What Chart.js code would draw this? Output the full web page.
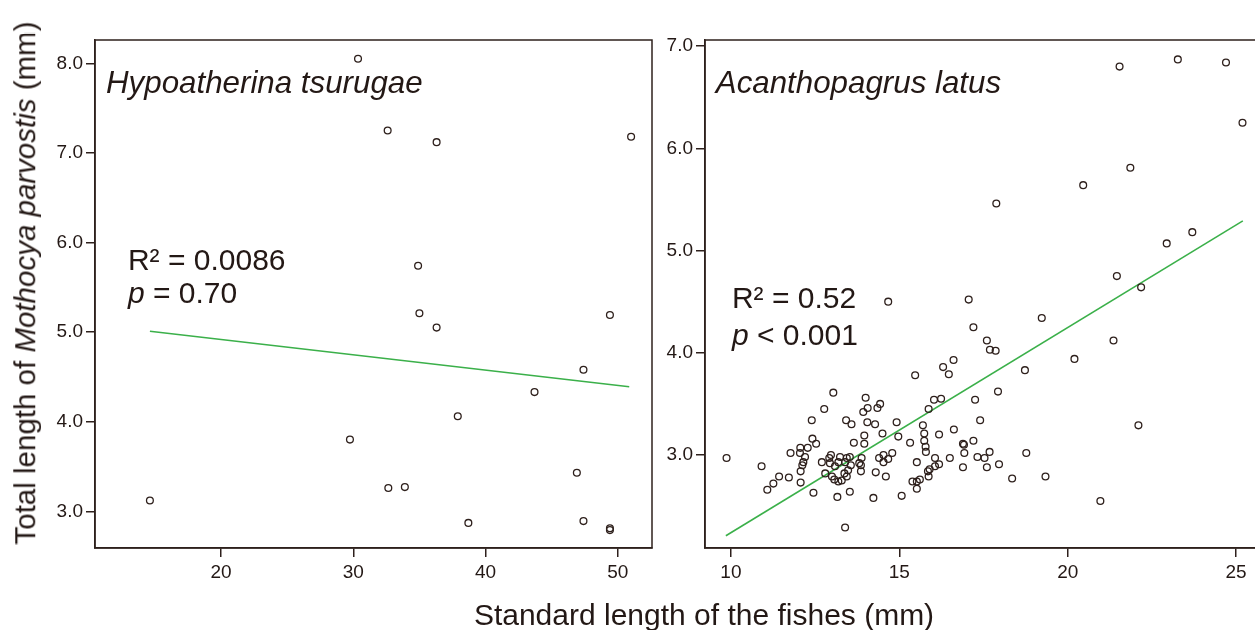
<!DOCTYPE html>
<html>
<head>
<meta charset="utf-8">
<script src="https://cdn.jsdelivr.net/npm/chart.js@4.4.0/dist/chart.umd.min.js"></script>
<style>
  html, body { margin: 0; padding: 0; background: #fff; width: 1255px; height: 630px; overflow: hidden; }
  body { position: relative; font-family: "Liberation Sans", Arial, sans-serif; color: #231815; }
  canvas { position: absolute; top: 0; }
  #leftChart { left: 0; }
  #rightChart { left: 655px; }
  .ytitle { position: absolute; left: 25px; top: 283px; transform: translate(-50%, -50%) rotate(-90deg);
            white-space: nowrap; font-size: 29.5px; line-height: 1; }
  .xtitle { position: absolute; left: 704px; top: 600px; transform: translateX(-50%);
            white-space: nowrap; font-size: 30px; line-height: 1; }
</style>
</head>
<body>
<canvas id="leftChart" width="655" height="630"></canvas>
<canvas id="rightChart" width="605" height="630"></canvas>
<div class="ytitle">Total length of <i>Mothocya parvostis</i> (mm)</div>
<div class="xtitle">Standard length of the fishes (mm)</div>
<script>
// Hypoatherina tsurugae: standard length (mm) vs parasite total length (mm)
const leftSL = [14.63, 29.75, 30.36, 32.6, 36.3, 51.0, 34.9, 35.0, 36.3, 49.4,
                47.4, 43.7, 37.9, 32.65, 33.9, 46.9, 38.7, 47.4, 49.4, 49.4];
const leftTL = [3.12, 3.80, 8.05, 7.25, 7.12, 7.18, 5.74, 5.21, 5.05, 5.19,
                4.58, 4.33, 4.06, 3.26, 3.27, 3.43, 2.87, 2.89, 2.81, 2.79];
const leftFitSL = [14.63, 50.86];
const leftFitTL = [5.01, 4.39];

// Acanthopagrus latus
const rightSL = [9.87, 10.91, 11.08, 11.26, 11.43, 11.72, 11.77, 12.06, 12.05, 12.28,
  12.40, 12.42, 12.53, 12.20, 12.15, 12.12, 12.07, 12.07, 12.45, 12.70,
  12.80, 12.77, 13.04, 13.42, 13.58, 13.65, 13.96, 13.96, 14.00, 14.06,
  13.93, 14.35, 14.43, 14.05, 14.28, 14.92, 14.50, 14.97, 15.32, 15.52,
  15.39, 15.52, 15.52, 15.07, 14.23, 13.53, 13.16, 13.39, 14.60, 14.30,
  14.40, 14.53, 14.53, 14.67, 14.79, 13.88, 13.86, 13.81, 13.86, 13.53,
  13.44, 13.39, 13.56, 13.48, 13.37, 13.24, 13.19, 13.09, 12.97, 12.92,
  12.94, 13.00, 13.07, 13.19, 13.29, 13.44, 15.47, 14.67, 15.70, 15.74,
  15.74, 15.78, 15.79, 16.18, 15.87, 16.03, 16.24, 16.30, 16.47, 16.61,
  16.62, 16.89, 16.92, 17.20, 16.93, 17.68, 17.32, 17.53, 18.77, 16.06,
  16.50, 16.18, 16.06, 15.90, 15.85, 15.87, 15.61, 16.89, 17.60, 17.96,
  18.35, 19.34, 20.97, 17.40, 17.25, 17.93, 18.73, 20.20, 21.36, 17.06,
  17.20, 17.60, 17.69, 17.86, 19.23, 22.10, 22.18, 21.46, 22.94, 23.70,
  17.88, 20.46, 21.86, 21.54, 23.27, 24.70, 25.19];
const rightTL = [2.97, 2.89, 2.66, 2.72, 2.79, 2.78, 3.02, 3.07, 3.02, 3.07,
  3.34, 3.16, 3.11, 2.98, 2.93, 2.90, 2.84, 2.73, 2.63, 2.93,
  2.82, 3.45, 3.61, 3.34, 3.30, 3.12, 3.19, 3.11, 3.56, 3.46,
  3.42, 3.46, 3.50, 3.32, 3.30, 3.32, 3.21, 3.18, 3.12, 2.93,
  2.74, 2.74, 2.67, 2.60, 2.58, 2.64, 2.59, 2.29, 2.79, 2.83,
  2.97, 3.00, 2.93, 2.96, 3.02, 2.97, 2.90, 2.92, 2.84, 2.98,
  2.97, 2.93, 2.90, 2.85, 2.82, 2.98, 2.93, 2.89, 3.00, 2.97,
  2.92, 2.79, 2.76, 2.74, 2.75, 2.79, 3.78, 4.50, 3.29, 3.21,
  3.14, 3.08, 3.03, 3.20, 3.45, 3.54, 3.55, 3.86, 3.79, 3.93,
  3.25, 3.11, 3.10, 3.14, 3.02, 3.03, 2.98, 2.97, 3.02, 2.97,
  2.97, 2.91, 2.89, 2.86, 2.84, 2.79, 2.76, 2.88, 2.88, 2.91,
  2.77, 2.79, 2.55, 3.34, 3.54, 3.62, 3.83, 3.94, 4.12, 4.52,
  4.25, 4.12, 4.03, 4.02, 4.34, 3.29, 4.64, 4.75, 5.07, 5.18,
  5.46, 5.64, 5.81, 6.80, 6.87, 6.84, 6.25];
const rightFitSL = [9.85, 25.2];
const rightFitTL = [2.21, 5.29];

const leftXTicks = [20, 30, 40, 50];
const leftYTicks = [3, 4, 5, 6, 7, 8];
const rightXTicks = [10, 15, 20, 25];
const rightYTicks = [3, 4, 5, 6, 7];

const leftSpecies = 'Hypoatherina tsurugae';
const rightSpecies = 'Acanthopagrus latus';
const leftR2 = '0.0086', leftP = '= 0.70';
const rightR2 = '0.52', rightP = '< 0.001';

const FONT = '"Liberation Sans", Arial, sans-serif';
const INK = '#231815';
const AXIS = '#2e201c';
const GREEN = '#3bb04a';

// frame round the plot area
const framePlugin = {
  id: 'frame',
  afterDraw(chart) {
    const a = chart.chartArea, ctx = chart.ctx;
    ctx.save();
    ctx.strokeStyle = AXIS;
    ctx.lineWidth = 1.5;
    ctx.strokeRect(a.left, a.top, a.right - a.left, a.bottom - a.top);
    ctx.restore();
  }
};

// species name and stats, placed in data units
const notesPlugin = {
  id: 'notes',
  afterDraw(chart, args, opts) {
    const ctx = chart.ctx, xs = chart.scales.x, ys = chart.scales.y;
    ctx.save();
    ctx.fillStyle = INK;
    ctx.textBaseline = 'alphabetic';
    opts.items.forEach(item => {
      let px = xs.getPixelForValue(item.x);
      const py = ys.getPixelForValue(item.y);
      item.parts.forEach(p => {
        ctx.font = (p.italic ? 'italic ' : '') + item.size + 'px ' + FONT;
        ctx.fillText(p.text, px, py);
        px += ctx.measureText(p.text).width;
      });
    });
    ctx.restore();
  }
};

function makeChart(id, sl, tl, fitSL, fitTL, xr, yr, xTicks, yTicks, yWidth, pad, notes) {
  const pts = sl.map((x, i) => ({ x: x, y: tl[i] }));
  const fit = fitSL.map((x, i) => ({ x: x, y: fitTL[i] }));
  const tickFont = { family: FONT, size: 19 };
  return new Chart(document.getElementById(id), {
    type: 'scatter',
    data: {
      datasets: [{
        data: pts,
        pointStyle: 'circle',
        pointRadius: 3.4,
        pointBorderWidth: 1.3,
        pointBorderColor: AXIS,
        pointBackgroundColor: 'rgba(0,0,0,0)'
      }, {
        type: 'line',
        data: fit,
        borderColor: GREEN,
        borderWidth: 1.6,
        pointRadius: 0,
        fill: false
      }]
    },
    options: {
      responsive: false,
      animation: false,
      layout: { padding: pad, autoPadding: false },
      plugins: {
        legend: { display: false },
        tooltip: { enabled: false },
        notes: { items: notes }
      },
      scales: {
        x: {
          type: 'linear', min: xr[0], max: xr[1],
          afterBuildTicks: s => { s.ticks = xTicks.map(v => ({ value: v })); },
          afterFit: s => { s.height = 50; s.paddingLeft = 0; s.paddingRight = 0; },
          grid: { drawOnChartArea: false, drawTicks: true, tickLength: 9, color: AXIS, lineWidth: 1.5 },
          border: { display: true, color: AXIS, width: 1.5 },
          ticks: { color: INK, font: tickFont, padding: 4, maxRotation: 0, autoSkip: false }
        },
        y: {
          type: 'linear', min: yr[0], max: yr[1],
          afterBuildTicks: s => { s.ticks = yTicks.map(v => ({ value: v })); },
          afterFit: s => { s.width = yWidth; s.paddingTop = 0; s.paddingBottom = 0; },
          grid: { drawOnChartArea: false, drawTicks: true, tickLength: 9, color: AXIS, lineWidth: 1.5 },
          border: { display: true, color: AXIS, width: 1.5 },
          ticks: { color: INK, font: tickFont, padding: 3, autoSkip: false,
                   callback: v => Number(v).toFixed(1) }
        }
      }
    },
    plugins: [framePlugin, notesPlugin]
  });
}

makeChart('leftChart', leftSL, leftTL, leftFitSL, leftFitTL,
  [10.48, 52.58], [2.59, 8.26], leftXTicks, leftYTicks, 95,
  { left: 0, top: 40, right: 3, bottom: 32 },
  [
    { x: 11.31, y: 7.67, size: 31.3, parts: [{ text: leftSpecies, italic: true }] },
    { x: 12.97, y: 5.69, size: 30, parts: [{ text: 'R\u00b2 = ' + leftR2 }] },
    { x: 12.97, y: 5.32, size: 30, parts: [{ text: 'p', italic: true }, { text: ' ' + leftP }] }
  ]);

makeChart('rightChart', rightSL, rightTL, rightFitSL, rightFitTL,
  [9.23, 25.71], [2.09, 7.06], rightXTicks, rightYTicks, 50,
  { left: 0, top: 40, right: 0, bottom: 32 },
  [
    { x: 9.55, y: 6.54, size: 31.3, parts: [{ text: rightSpecies, italic: true }] },
    { x: 10.03, y: 4.44, size: 30, parts: [{ text: 'R\u00b2 = ' + rightR2 }] },
    { x: 10.03, y: 4.08, size: 30, parts: [{ text: 'p', italic: true }, { text: ' ' + rightP }] }
  ]);
</script>
</body>
</html>
